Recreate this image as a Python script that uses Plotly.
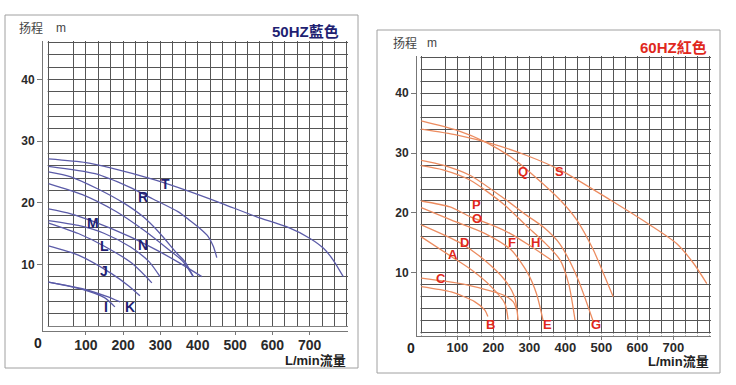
import plotly.graph_objects as go

# ---------------- 50 Hz (left, blue) curves: flow L/min, head m ----------------
t_q = [0, 100, 169, 285, 379, 464, 558, 638, 701, 737, 763, 790]
t_h = [27.1, 26.5, 25.6, 23.7, 21.8, 19.9, 17.7, 16.1, 14.2, 12.6, 10.7, 8.0]
r_q = [0, 125, 214, 280, 348, 379, 406, 428, 442, 451]
r_h = [25.9, 24.7, 22.6, 20.6, 18.5, 17.1, 15.8, 14.5, 12.9, 11.1]
u_q = [0, 60, 130, 200, 254, 299, 344, 366, 388]
u_h = [25.0, 24.2, 22.3, 20.0, 17.7, 15.0, 11.8, 10.4, 8.0]
v_q = [0, 91, 180, 254, 320, 360, 388]
v_h = [23.1, 21.3, 18.6, 15.6, 12.5, 10.5, 8.0]
m_q = [0, 60, 118, 218, 290, 352, 411]
m_h = [19.0, 18.2, 17.0, 14.5, 12.3, 10.2, 8.0]
n_q = [0, 80, 150, 220, 270, 299]
n_h = [17.1, 16.3, 15.0, 12.8, 10.4, 8.0]
l_q = [0, 80, 151, 223, 277]
l_h = [16.7, 15.0, 12.9, 10.2, 7.0]
j_q = [0, 80, 169, 215, 245]
j_h = [13.0, 11.5, 8.5, 6.5, 4.9]
i_q = [0, 93, 150, 178]
i_h = [7.1, 5.9, 4.6, 3.1]
k_q = [0, 93, 156, 192]
k_h = [7.1, 6.0, 4.8, 3.9]

left_curves = [(t_q, t_h), (r_q, r_h), (u_q, u_h), (v_q, v_h), (m_q, m_h),
               (n_q, n_h), (l_q, l_h), (j_q, j_h), (i_q, i_h), (k_q, k_h)]
left_labels = ["T", "R", "M", "L", "N", "J", "I", "K"]
left_label_q = [314, 254, 118, 149, 252, 149, 154, 218]
left_label_h = [23.1, 21.0, 16.7, 12.9, 13.1, 9.0, 3.0, 3.0]

# ---------------- 60 Hz (right, red) curves ----------------
qq_q = [0, 100, 180, 250, 315, 385, 432, 478, 506, 533]
qq_h = [35.4, 33.8, 31.8, 29.3, 26.1, 22.2, 18.8, 13.8, 9.9, 6.0]
s_q = [0, 100, 200, 293, 385, 524, 635, 709, 756, 793]
s_h = [34.0, 33.0, 31.5, 29.6, 27.2, 22.2, 18.0, 14.9, 11.6, 8.2]
g_q = [0, 60, 135, 228, 293, 340, 385, 432, 478]
g_h = [28.8, 28.0, 26.3, 22.5, 19.6, 17.6, 14.8, 9.4, 1.8]
h_q = [0, 60, 135, 228, 293, 340, 385, 410, 427]
h_h = [27.9, 27.2, 25.5, 21.5, 17.8, 15.2, 12.2, 8.0, 2.1]
p_q = [0, 80, 135, 200, 246, 300, 362]
p_h = [22.0, 21.0, 19.4, 17.9, 16.6, 14.6, 12.1]
o_q = [0, 84, 176, 250, 296, 320, 338]
o_h = [20.9, 18.8, 16.6, 13.8, 9.9, 6.5, 2.1]
d_q = [0, 111, 176, 232, 259, 269]
d_h = [18.0, 14.9, 12.1, 8.8, 6.0, 2.1]
a_q = [0, 84, 139, 194, 232, 241]
a_h = [16.0, 12.7, 10.5, 7.7, 4.9, 2.2]
c_q = [0, 117, 228, 255, 265]
c_h = [9.1, 8.1, 6.3, 5.2, 3.8]
b_q = [0, 83, 148, 176, 185]
b_h = [7.7, 6.8, 5.2, 3.8, 2.7]

right_curves = [(qq_q, qq_h), (s_q, s_h), (g_q, g_h), (h_q, h_h), (p_q, p_h),
                (o_q, o_h), (d_q, d_h), (a_q, a_h), (c_q, c_h), (b_q, b_h)]
right_labels = ["Q", "S", "P", "O", "D", "F", "H", "A", "C", "B", "E", "G"]
right_label_q = [283, 385, 152, 154, 119, 251, 318, 87, 55, 191, 351, 485]
right_label_h = [26.9, 26.9, 21.4, 19.0, 15.0, 15.0, 15.0, 13.0, 9.1, 1.3, 1.3, 1.3]

# axis ticks / grid
x_tick_vals = [100, 200, 300, 400, 500, 600, 700]
x_grid_minor = [0, 200 / 3, 400 / 3, 500 / 3, 700 / 3, 800 / 3, 1000 / 3, 1100 / 3,
                1300 / 3, 1400 / 3, 1600 / 3, 1700 / 3, 1900 / 3, 2000 / 3,
                2200 / 3, 2300 / 3, 800]
y_tick_vals = [10, 20, 30, 40]
y_grid_minor = [v for v in range(0, 47, 2) if v not in y_tick_vals]

FONT = "Liberation Sans, Arial, Noto Sans CJK SC, sans-serif"
GRID = "#555555"
GW = 1.4
LEFT_LINE = "#5b5ba8"
RIGHT_LINE = "#ec8c60"
LEFT_TXT = "#1f1f72"
RIGHT_TXT = "#e0281c"

W, H = 736, 385


def px(x):
    return x / W


def py(y):
    return 1 - y / H


fig = go.Figure()

for q, h in left_curves:
    fig.add_trace(go.Scatter(x=q, y=h, mode="lines", xaxis="x", yaxis="y",
                             line=dict(color=LEFT_LINE, width=1.3, shape="spline", smoothing=0.7),
                             hoverinfo="skip"))
for q, h in right_curves:
    fig.add_trace(go.Scatter(x=q, y=h, mode="lines", xaxis="x2", yaxis="y2",
                             line=dict(color=RIGHT_LINE, width=1.3, shape="spline", smoothing=0.7),
                             hoverinfo="skip"))


def xax(domain, rng, anchor, size, standoff):
    return dict(domain=domain, range=rng, anchor=anchor,
                tickmode="array", tickvals=x_tick_vals, ticktext=[str(v) for v in x_tick_vals],
                ticks="outside", ticklen=3, tickcolor="#777", tickwidth=1,
                ticklabelstandoff=standoff,
                showline=True, linecolor="#777", linewidth=1,
                showgrid=True, gridcolor=GRID, gridwidth=GW, zeroline=False,
                minor=dict(tickvals=x_grid_minor, showgrid=True, gridcolor=GRID,
                           gridwidth=GW, ticks=""),
                tickfont=dict(family=FONT, size=size, color="#2a2a2a", weight="bold"),
                fixedrange=True)


def yax(domain, rng, anchor):
    return dict(domain=domain, range=rng, anchor=anchor,
                tickmode="array", tickvals=y_tick_vals, ticktext=[str(v) for v in y_tick_vals],
                ticks="outside", ticklen=5, tickcolor="#777", tickwidth=1,
                showline=True, linecolor="#777", linewidth=1,
                showgrid=True, gridcolor=GRID, gridwidth=GW, zeroline=False,
                minor=dict(tickvals=y_grid_minor, showgrid=True, gridcolor=GRID,
                           gridwidth=GW, ticks=""),
                tickfont=dict(family=FONT, size=12, color="#2a2a2a", weight="bold"),
                fixedrange=True)


fig.update_layout(
    width=W, height=H, margin=dict(l=0, r=0, t=0, b=0),
    paper_bgcolor="white", plot_bgcolor="white", showlegend=False,
    xaxis=xax([px(43), px(348.3)], [-14.7, 803.5], "y", 14, -2),
    yaxis=yax([py(331), py(41.1)], [-0.81, 46.2], "x"),
    xaxis2=xax([px(417), px(710.6)], [-11.9, 803.5], "y2", 13, -3),
    yaxis2=yax([py(335.7), py(56.1)], [-0.5, 46.2], "x2"),
)

shapes = []
# white masks to leave a gap between grid and offset axis lines
for xr, yr, xl, yl in [("x", "y", -14.7, -0.81), ("x2", "y2", -11.9, -0.5)]:
    shapes.append(dict(type="rect", xref=xr, yref=yr, x0=xl, x1=-2.2, y0=yl, y1=46.2,
                       fillcolor="white", line=dict(width=0), layer="between"))
    shapes.append(dict(type="rect", xref=xr, yref=yr, x0=xl, x1=803.5, y0=yl, y1=-0.13,
                       fillcolor="white", line=dict(width=0), layer="between"))
# outer frames
shapes.append(dict(type="rect", xref="paper", yref="paper", x0=px(5), x1=px(358),
                   y0=py(368), y1=py(15), line=dict(color="#a0a0a0", width=1)))
shapes.append(dict(type="rect", xref="paper", yref="paper", x0=px(377), x1=px(720),
                   y0=py(373), y1=py(30), line=dict(color="#a0a0a0", width=1)))
fig.update_layout(shapes=shapes)

ann = []
for t, q, h in zip(left_labels, left_label_q, left_label_h):
    ann.append(dict(text=t, x=q, y=h, xref="x", yref="y", showarrow=False,
                    font=dict(family=FONT, size=14, color=LEFT_TXT, weight="bold")))
for t, q, h in zip(right_labels, right_label_q, right_label_h):
    ann.append(dict(text=t, x=q, y=h, xref="x2", yref="y2", showarrow=False,
                    font=dict(family=FONT, size=13, color=RIGHT_TXT, weight="bold")))


def txt(s, x, y, size, color, anchor="left", bold=False):
    ann.append(dict(text=s, x=px(x), y=py(y), xref="paper", yref="paper", showarrow=False,
                    xanchor=anchor, yanchor="middle",
                    font=dict(family=FONT, size=size, color=color,
                              weight="bold" if bold else "normal")))


# left panel texts
txt("扬程", 17, 28.5, 12, "#444")
txt("m", 54, 28.5, 12, "#444")
txt("50HZ藍色", 341, 31, 15, LEFT_TXT, "right", True)
txt("0", 37.5, 342.5, 14, "#222", "center", True)
txt("L/min流量", 348, 360, 13, "#222", "right", True)
# right panel texts
txt("扬程", 391, 43.5, 12, "#444")
txt("m", 425, 43.5, 12, "#444")
txt("60HZ紅色", 709, 47, 15, RIGHT_TXT, "right", True)
txt("0", 410.5, 348, 14, "#222", "center", True)
txt("L/min流量", 711, 361.5, 13, "#222", "right", True)

fig.update_layout(annotations=ann)
fig.write_html("out.html", config={"displayModeBar": False},
               post_script="document.body.style.margin='0';document.body.style.overflow='hidden';")
